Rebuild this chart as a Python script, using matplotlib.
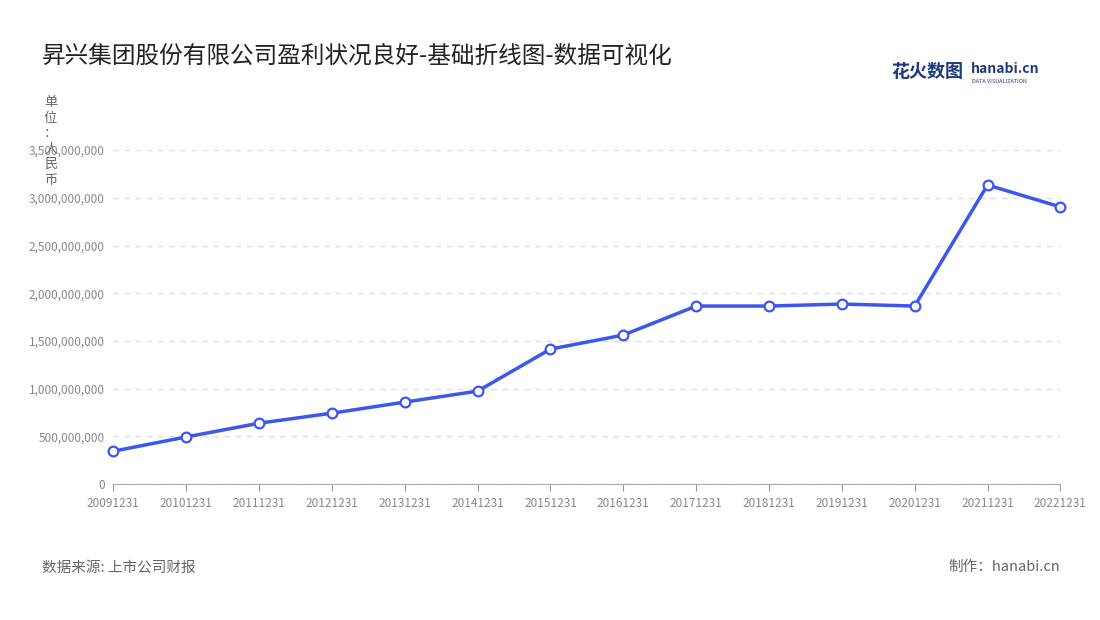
import matplotlib.pyplot as plt
from matplotlib.ticker import FuncFormatter

plt.rcParams['font.family'] = ['Noto Sans CJK SC', 'DejaVu Sans']

# data
years = ['20091231', '20101231', '20111231', '20121231', '20131231', '20141231',
         '20151231', '20161231', '20171231', '20181231', '20191231', '20201231',
         '20211231', '20221231']
profit = [346e6, 495e6, 639e6, 744e6, 860e6, 975e6, 1415e6, 1562e6,
          1866e6, 1866e6, 1887e6, 1866e6, 3134e6, 2904e6]
yticks = [0, 5e8, 1e9, 1.5e9, 2e9, 2.5e9, 3e9, 3.5e9]

fig = plt.figure(figsize=(11, 6.2), dpi=100)
ax = fig.add_axes([0.103, 0.219, 0.861, 0.539])

x = list(range(len(years)))
ax.plot(x, profit, color='#3b57f0', lw=2.5, marker='o', ms=7,
        markerfacecolor='white', markeredgecolor='#3b57f0', markeredgewidth=1.6,
        zorder=3, clip_on=False)

ax.set_xlim(0, len(years) - 1)
ax.set_ylim(0, 3.5e9)
ax.set_xticks(x)
ax.set_xticklabels(years)
ax.set_yticks(yticks)
ax.yaxis.set_major_formatter(FuncFormatter(lambda v, p: f'{int(v):,}'))
ax.tick_params(axis='x', colors='#999999', labelsize=8.5, length=5, pad=4)
ax.tick_params(axis='x', labelcolor='#888888')
ax.tick_params(axis='y', length=0, labelsize=8.5, labelcolor='#888888', pad=6)
ax.grid(axis='y', linestyle=(0, (4, 4)), color='#dddddd', lw=1)
for s in ['top', 'right', 'left']:
    ax.spines[s].set_visible(False)
ax.spines['bottom'].set_color('#aaaaaa')

fig.text(0.038, 0.91, '昇兴集团股份有限公司盈利状况良好-基础折线图-数据可视化',
         fontsize=17, color='#222222', va='center')
fig.text(0.046, 0.845, '单\n位\n：\n人\n民\n币', fontsize=9.5, color='#666666',
         va='top', ha='center', linespacing=1.25)
fig.text(0.81, 0.885, '花火数图', fontsize=13, color='#1f3a7a', weight='bold', va='center')
fig.text(0.883, 0.888, 'hanabi.cn', fontsize=10, color='#1f3a7a', weight='bold', va='center')
fig.text(0.884, 0.868, 'DATA VISUALIZATION', fontsize=4, color='#1f3a7a', va='center')
fig.text(0.038, 0.085, '数据来源: 上市公司财报', fontsize=10.5, color='#666666', va='center')
fig.text(0.964, 0.085, '制作：hanabi.cn', fontsize=10.5, color='#666666', va='center', ha='right')

fig.savefig('out.png')
